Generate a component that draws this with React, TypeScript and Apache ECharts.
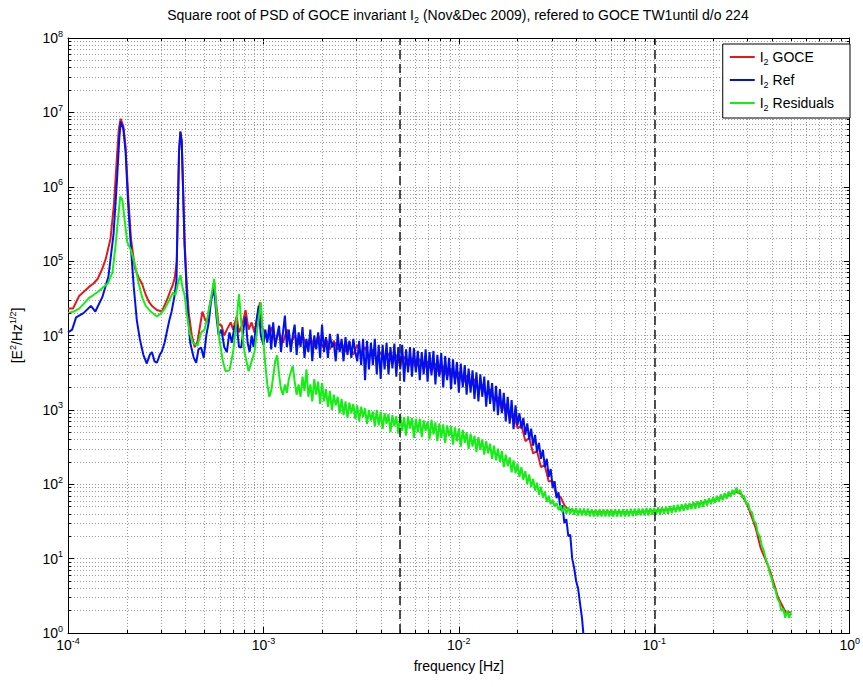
import React, { useEffect, useRef } from "react";
import * as echarts from "echarts";

// ---------------- data ----------------
const refLowFreq = [1.0e-4,1.05e-4,1.1e-4,1.2e-4,1.31e-4,1.38e-4,1.5e-4,1.61e-4,1.71e-4,1.78e-4,1.83e-4,1.86e-4,1.92e-4,1.97e-4,2.03e-4,2.1e-4,2.17e-4,2.25e-4,2.33e-4,2.43e-4,2.53e-4,2.62e-4,2.69e-4,2.77e-4,2.85e-4,2.95e-4,3.02e-4,3.12e-4,3.2e-4,3.3e-4,3.39e-4,3.5e-4,3.59e-4,3.64e-4,3.7e-4,3.76e-4,3.82e-4,3.87e-4,3.95e-4,4.05e-4,4.13e-4,4.22e-4,4.3e-4,4.4e-4,4.53e-4,4.65e-4,4.8e-4,4.95e-4,5.1e-4,5.25e-4,5.4e-4,5.6e-4,5.75e-4,5.9e-4,6.1e-4,6.3e-4,6.5e-4,6.7e-4,6.9e-4,7.1e-4,7.3e-4,7.5e-4,7.7e-4,7.9e-4,8.1e-4,8.3e-4,8.5e-4,8.7e-4,8.9e-4,9.2e-4,9.45e-4,9.7e-4];
const refLowVals = [1.1e4,1.2e4,1.75e4,2.0e4,2.5e4,2.1e4,3.3e4,6.2e4,2.3e5,1.2e6,4.5e6,7.5e6,6.0e6,3.0e6,6e5,1.5e5,4.5e4,1.6e4,9e3,5.5e3,4.2e3,5.5e3,6e3,4.5e3,4.3e3,5.5e3,6.1e3,8e3,1.1e4,1.6e4,2.1e4,3.3e4,5.5e4,4e5,3e6,5.5e6,4e6,1.2e6,1.6e5,4e4,1.6e4,8e3,6.5e3,5e3,4.3e3,6.5e3,6.9e3,5e3,1.0e4,1.5e4,3.0e4,4.2e4,1.8e4,1.0e4,1.2e4,7e3,6e3,1.1e4,8e3,1.3e4,1.4e4,7e3,6.9e3,1.2e4,1.8e4,8e3,6e3,1.0e4,7e3,1.5e4,2.5e4,1.0e4];

const goceLowFreq = [1.0e-4,1.06e-4,1.14e-4,1.22e-4,1.28e-4,1.35e-4,1.42e-4,1.5e-4,1.56e-4,1.65e-4,1.72e-4,1.77e-4,1.82e-4,1.86e-4,1.92e-4,1.97e-4,2.03e-4,2.1e-4,2.2e-4,2.3e-4,2.39e-4,2.5e-4,2.6e-4,2.69e-4,2.85e-4,3.02e-4,3.13e-4,3.24e-4,3.34e-4,3.43e-4,3.52e-4,3.6e-4,3.65e-4,3.7e-4,3.76e-4,3.82e-4,3.87e-4,3.95e-4,4.05e-4,4.15e-4,4.3e-4,4.45e-4,4.6e-4,4.75e-4,4.87e-4,5.0e-4,5.15e-4,5.3e-4,5.45e-4,5.6e-4,5.75e-4,5.9e-4,6.1e-4,6.3e-4,6.5e-4,6.8e-4,7.0e-4,7.3e-4,7.5e-4,7.8e-4,8.1e-4,8.4e-4,8.7e-4,9.0e-4,9.3e-4,9.6e-4,9.8e-4];
const goceLowVals = [2.3e4,2.3e4,3.4e4,4e4,4.5e4,5e4,5.8e4,8e4,1.07e5,2e5,6e5,2e6,6e6,8.2e6,6.5e6,3.5e6,8e5,2e5,8e4,6e4,5e4,3.5e4,2.8e4,2.5e4,2.2e4,2.1e4,2.6e4,3.2e4,4.0e4,4.7e4,6e4,1e5,5e5,3e6,5.5e6,4e6,1.2e6,1.8e5,5e4,2e4,1e4,7e3,8.3e3,1.4e4,2.1e4,1.7e4,1.5e4,2.5e4,3.5e4,5.2e4,2.5e4,1.4e4,1.37e4,1.0e4,1.2e4,1.5e4,1.2e4,1.8e4,1.1e4,1.4e4,2.2e4,1.2e4,1.5e4,1.1e4,1.8e4,2.8e4,1.3e4];

const resLowFreq = [1.0e-4,1.07e-4,1.14e-4,1.21e-4,1.28e-4,1.35e-4,1.43e-4,1.52e-4,1.6e-4,1.69e-4,1.75e-4,1.8e-4,1.85e-4,1.9e-4,1.95e-4,2.01e-4,2.1e-4,2.2e-4,2.3e-4,2.4e-4,2.5e-4,2.65e-4,2.85e-4,3.0e-4,3.13e-4,3.3e-4,3.45e-4,3.55e-4,3.65e-4,3.76e-4,3.85e-4,3.95e-4,4.05e-4,4.19e-4,4.35e-4,4.6e-4,4.8e-4,5.0e-4,5.16e-4,5.35e-4,5.6e-4,5.75e-4,5.95e-4,6.2e-4,6.4e-4,6.7e-4,7.0e-4,7.2e-4,7.5e-4,7.75e-4,8.0e-4,8.4e-4,8.7e-4,9.0e-4,9.3e-4,9.7e-4];
const resLowVals = [2.0e4,2.1e4,2.3e4,2.7e4,3.2e4,3.5e4,3.9e4,4.5e4,5e4,7.1e4,1.6e5,3.5e5,7.4e5,6.5e5,3.5e5,1.8e5,1.4e5,9e4,5e4,3.2e4,2.5e4,2.1e4,1.8e4,2.0e4,2.3e4,3.0e4,3.8e4,3.5e4,5e4,6.5e4,4.5e4,3.5e4,2e4,1.1e4,8e3,7.3e3,1.1e4,1.2e4,1.7e4,2.8e4,5.8e4,2.2e4,9e3,4.5e3,3.3e3,3.4e3,6e3,1.2e4,3.6e4,1.2e4,6e3,3.3e3,4.5e3,6e3,1.2e4,2.8e4];

// dense frequency grid (mantissas of one decade) for the noisy Ref / Residual parts
const denseMant = [
  1.000,1.023,1.047,1.072,1.096,1.122,1.148,1.175,1.202,1.230,
  1.259,1.288,1.318,1.349,1.380,1.413,1.445,1.479,1.514,1.549,
  1.585,1.622,1.660,1.698,1.738,1.778,1.820,1.862,1.905,1.950,
  1.995,2.042,2.089,2.138,2.188,2.239,2.291,2.344,2.399,2.455,
  2.512,2.570,2.630,2.692,2.754,2.818,2.884,2.951,3.020,3.090,
  3.162,3.236,3.311,3.388,3.467,3.548,3.631,3.715,3.802,3.890,
  3.981,4.074,4.169,4.266,4.365,4.467,4.571,4.677,4.786,4.898,
  5.012,5.129,5.248,5.370,5.495,5.623,5.754,5.888,6.026,6.166,
  6.310,6.457,6.607,6.761,6.918,7.079,7.244,7.413,7.586,7.762,
  7.943,8.128,8.318,8.511,8.710,8.913,9.120,9.333,9.550,9.772,
];
const denseDecades = [1e-3, 1e-2, 1e-1];

const refNoiseVals = [
  // 1e-3 .. 1e-2
  7.5e3,1.2e4,8e3,1.4e4,6.5e3,1.5e4,7e3,1.0e4,1.35e4,6e3,
  1.1e4,1.85e4,7e3,1.2e4,6e3,1.0e4,1.4e4,5.5e3,1.1e4,7e3,
  1.3e4,5e3,9e3,6e3,1.2e4,4.5e3,1.0e4,6.5e3,1.1e4,5e3,
  1.4e4,6e3,9.5e3,5e3,1.05e4,7e3,8e3,4.5e3,1.05e4,6e3,
  9e3,4.5e3,9.5e3,5.5e3,8.5e3,5e3,9e3,6e3,4.5e3,8.5e3,
  4e3,9e3,2.5e3,8.5e3,3.5e3,8e3,4e3,9e3,3e3,7.5e3,
  2.6e3,7.5e3,3.5e3,8e3,3e3,7e3,3.6e3,7.8e3,2.8e3,7e3,
  3.5e3,7.5e3,2.4e3,6.5e3,3.2e3,7e3,2.8e3,6.8e3,3.2e3,6.2e3,
  2.5e3,6e3,3e3,6.5e3,2.4e3,6e3,2.9e3,6.2e3,2.2e3,5.5e3,
  2.8e3,5.8e3,2e3,5.3e3,2.5e3,5e3,1.9e3,4.8e3,2.2e3,4.4e3,
  // 1e-2 .. 4.4e-2
  1.7e3,4.2e3,2e3,4e3,1.6e3,3.6e3,1.7e3,3.4e3,1.4e3,3.2e3,
  1.3e3,3e3,1.5e3,2.8e3,1.1e3,2.5e3,1.2e3,2.3e3,950,2.1e3,
  850,1.9e3,900,1.7e3,700,1.5e3,650,1.35e3,550,1.15e3,
  620,900,560,780,460,660,400,560,330,460,
  270,360,220,290,170,220,125,160,90,110,
  65,78,45,52,30,34,20,21,10,7.5,
  5,4,2.5,1.6,0.8,
];

const resNoiseVals = [
  // 1e-3 .. 1e-2
  8e3,4e3,2.2e3,1.5e3,1.8e3,2.8e3,4.5e3,5.4e3,3e3,1.9e3,
  1.6e3,2.2e3,1.7e3,2.6e3,3.2e3,3.9e3,2.4e3,1.6e3,2.2e3,1.5e3,
  2.8e3,1.8e3,3.5e3,1.5e3,2.2e3,1.3e3,2.6e3,1.6e3,2.4e3,1.2e3,
  2.3e3,1.3e3,1.9e3,1.1e3,1.8e3,1e3,1.6e3,1.15e3,1.5e3,900,
  1.4e3,850,1.3e3,780,1.25e3,900,1.2e3,750,1.15e3,700,
  1.1e3,800,1.05e3,650,1e3,720,950,600,1e3,620,
  950,550,900,650,880,500,850,600,820,480,
  850,520,800,450,820,560,780,420,760,500,
  760,430,720,520,700,400,740,470,680,380,
  660,420,640,360,620,440,600,340,580,380,
  // 1e-2 .. 1e-1
  560,320,540,360,500,300,480,320,450,270,
  430,290,400,250,380,260,350,220,330,210,
  300,200,280,170,250,175,230,145,210,140,
  190,125,170,115,150,100,135,92,118,82,
  105,72,92,66,80,58,70,54,62,50,
  56,45,52,42,50,40,49,40,48,39,
  48,38,47,38,47,38,47,37,46,37,
  46,37,46,37,46,37,46,37,46,37,
  46,37,46,37,46,37,46,37,47,37,
  47,38,47,38,47,38,48,38,48,39,
  // 1e-1 .. 0.5
  48,39,49,39,49,40,50,40,51,41,
  52,42,53,43,54,44,55,45,56,46,
  58,47,59,48,61,50,63,52,65,54,
  67,56,70,58,73,61,76,64,80,68,
  84,72,90,76,84,66,70,54,56,44,
  42,32,30,22,20,15,13,10,8.5,6.5,
  5.5,4.2,3.8,2.9,2.6,2.0,2.1,1.6,2.0,1.6,
  1.9,
];

const goceNoiseFreq = [
  1.00e-3,1.05e-3,1.10e-3,1.15e-3,1.20e-3,1.26e-3,1.32e-3,1.38e-3,1.45e-3,1.51e-3,
  1.58e-3,1.66e-3,1.74e-3,1.82e-3,1.91e-3,2.00e-3,2.09e-3,2.19e-3,2.29e-3,2.40e-3,
  2.51e-3,2.63e-3,2.75e-3,2.88e-3,3.02e-3,3.16e-3,3.31e-3,3.47e-3,3.63e-3,3.80e-3,
  3.98e-3,4.17e-3,4.37e-3,4.57e-3,4.79e-3,5.01e-3,5.25e-3,5.50e-3,5.75e-3,6.03e-3,
  6.31e-3,6.61e-3,6.92e-3,7.24e-3,7.59e-3,7.94e-3,8.32e-3,8.71e-3,9.12e-3,9.55e-3,
  1.00e-2,1.05e-2,1.10e-2,1.15e-2,1.20e-2,1.26e-2,1.32e-2,1.38e-2,1.45e-2,1.51e-2,
  1.58e-2,1.66e-2,1.74e-2,1.82e-2,1.91e-2,2.00e-2,2.09e-2,2.19e-2,2.29e-2,2.40e-2,
  2.51e-2,2.63e-2,2.75e-2,2.88e-2,3.02e-2,3.16e-2,3.31e-2,3.47e-2,
];
const goceNoiseVals = [
  1.2e4,9e3,1.3e4,8e3,1.1e4,8e3,1.2e4,8e3,1.0e4,7.5e3,
  1.05e4,7e3,9.5e3,7e3,1.0e4,7e3,9e3,6.5e3,8.5e3,6.5e3,
  8e3,6e3,8e3,5.5e3,7.5e3,5.5e3,7e3,5e3,6.5e3,4.8e3,
  6e3,4.5e3,5.8e3,4.2e3,5.5e3,4e3,5.2e3,3.8e3,5e3,3.7e3,
  4.8e3,3.5e3,4.5e3,3.3e3,4.2e3,3e3,3.9e3,2.8e3,3.6e3,2.6e3,
  3.2e3,2.3e3,2.9e3,2.0e3,2.6e3,1.8e3,2.2e3,1.5e3,1.9e3,1.3e3,
  1.5e3,1.0e3,1.2e3,760,880,560,620,380,420,260,
  280,170,180,110,110,70,68,52,
];
const goceTailFreq = [3.63e-2,4.0e-2,5.0e-2,6.0e-2,8.0e-2,0.1,0.13,0.15,0.2,0.24,0.26,0.28,0.3,0.33,0.35,0.39,0.43,0.47,0.5];
const goceTailVals = [46,43,42,42,42,44,47,51,61,72,80,73,52,26,14,7,3.0,1.9,1.9];

const dashedFreqs = [5e-3, 1e-1];
const seriesNames = ["I2 GOCE", "I2 Ref", "I2 Residuals"];
const seriesColors = ["#e31a1c", "#0010f0", "#14ee14"];

// ---------------- helpers ----------------
const FONT = "'Liberation Sans', Arial, Helvetica, sans-serif";
const zip = (f: number[], v: number[]) => v.map((y, i) => [f[i], y]);
const denseFreq = denseDecades.flatMap((d) => denseMant.map((m) => m * d));

const goceData = [
  ...zip(goceLowFreq, goceLowVals),
  ...zip(goceNoiseFreq, goceNoiseVals),
  ...zip(goceTailFreq, goceTailVals),
];
const refData = [...zip(refLowFreq, refLowVals), ...zip(denseFreq, refNoiseVals)];
const resData = [...zip(resLowFreq, resLowVals), ...zip(denseFreq, resNoiseVals)];

const powFmt = (v: number) => `{b|10}{s|${Math.round(Math.log10(v))}}`;
const tickRich = {
  b: { fontSize: 14, fontFamily: FONT, color: "#000", lineHeight: 18 },
  s: { fontSize: 9, fontFamily: FONT, color: "#000", lineHeight: 8, verticalAlign: "top" },
};

const GRID_TOP = 38;
const GRID_BOTTOM = 54;
const GRID_LEFT = 62;
const GRID_RIGHT = 10;

export default function App() {
  const ref = useRef<HTMLDivElement>(null);
  useEffect(() => {
    if (!ref.current) return;
    const chart = echarts.init(ref.current, null, { renderer: "svg" });

    const minorX: number[] = [];
    for (let d = -4; d < 0; d++) for (let m = 2; m <= 9; m++) minorX.push(m * Math.pow(10, d));
    const minorY: number[] = [];
    for (let d = 0; d < 8; d++) for (let m = 2; m <= 9; m++) minorY.push(m * Math.pow(10, d));

    const plotH = 687 - GRID_TOP - GRID_BOTTOM;
    const plotW = 863 - GRID_LEFT - GRID_RIGHT;
    const fy = Math.pow(10, 3 / (plotH / 8));
    const fx = Math.pow(10, 3 / (plotW / 4));
    const ticks: any[] = [];
    minorX.forEach((x) => {
      ticks.push([{ coord: [x, 1] }, { coord: [x, fy] }]);
      ticks.push([{ coord: [x, 1e8] }, { coord: [x, 1e8 / fy] }]);
    });
    minorY.forEach((y) => {
      ticks.push([{ coord: [1e-4, y] }, { coord: [1e-4 * fx, y] }]);
      ticks.push([{ coord: [1, y] }, { coord: [1 / fx, y] }]);
    });

    const helper = (name: string, markLine: any) => ({
      name,
      type: "line",
      data: [[1e-4, 1]],
      symbol: "none",
      showSymbol: false,
      lineStyle: { opacity: 0, width: 0 },
      silent: true,
      markLine: {
        silent: true,
        precision: 12,
        symbol: ["none", "none"],
        label: { show: false },
        emphasis: { disabled: true },
        animation: false,
        ...markLine,
      },
    });

    const gridLine = { color: "#9a9a9a", width: 1, type: [1, 2] };

    const logAxisBase = {
      type: "log",
      logBase: 10,
      axisLine: { show: true, onZero: false, lineStyle: { color: "#000", width: 1 } },
      axisTick: { show: true, inside: true, length: 6, lineStyle: { color: "#000", width: 1 } },
      minorTick: { show: false },
    };

    const dataSeries = (i: number, data: number[][]) => ({
      name: seriesNames[i],
      type: "line",
      data,
      symbol: "none",
      showSymbol: false,
      clip: true,
      z: 2,
      color: seriesColors[i],
      lineStyle: { color: seriesColors[i], width: 2 },
    });

    chart.setOption({
      animation: false,
      backgroundColor: "#fff",
      grid: { left: GRID_LEFT, right: GRID_RIGHT, top: GRID_TOP, bottom: GRID_BOTTOM, containLabel: false },
      xAxis: [
        {
          ...logAxisBase,
          min: 1e-4,
          max: 1,
          splitNumber: 4,
          position: "bottom",
          axisLabel: { formatter: powFmt, rich: tickRich, margin: 3, showMinLabel: true, showMaxLabel: true },
          splitLine: { show: true, lineStyle: gridLine },
          name: "frequency [Hz]",
          nameLocation: "middle",
          nameGap: 26,
          nameTextStyle: { fontSize: 14, fontFamily: FONT, color: "#000" },
        },
        {
          ...logAxisBase,
          min: 1e-4,
          max: 1,
          splitNumber: 4,
          position: "top",
          axisLabel: { show: false },
          splitLine: { show: false },
        },
      ],
      yAxis: [
        {
          ...logAxisBase,
          min: 1,
          max: 1e8,
          splitNumber: 8,
          position: "left",
          axisLabel: { formatter: powFmt, rich: tickRich, margin: 5, showMinLabel: true, showMaxLabel: true },
          splitLine: { show: true, lineStyle: gridLine },
          name: "{t|[E}{p|2}{t|/Hz}{p|1/2}{t|]}",
          nameLocation: "middle",
          nameRotate: 90,
          nameGap: 42,
          nameTextStyle: {
            rich: {
              t: { fontSize: 14, fontFamily: FONT, color: "#000", lineHeight: 18 },
              p: { fontSize: 9, fontFamily: FONT, color: "#000", lineHeight: 8, verticalAlign: "top" },
            },
          },
        },
        {
          ...logAxisBase,
          min: 1,
          max: 1e8,
          splitNumber: 8,
          position: "right",
          axisLabel: { show: false },
          splitLine: { show: false },
        },
      ],
      legend: {
        data: seriesNames,
        orient: "vertical",
        right: 13,
        top: 44,
        icon: "rect",
        itemWidth: 25,
        itemHeight: 2,
        itemGap: 7,
        padding: [6, 16, 6, 7],
        backgroundColor: "#fff",
        borderColor: "#000",
        borderWidth: 1,
        formatter: (n: string) => `{t|I}{s|2}{t| ${n.slice(3)}}`,
        textStyle: {
          rich: {
            t: { fontSize: 14, fontFamily: FONT, color: "#000", lineHeight: 18 },
            s: { fontSize: 9, fontFamily: FONT, color: "#000", lineHeight: 8, verticalAlign: "bottom" },
          },
        },
      },
      graphic: [
        {
          type: "text",
          x: 458,
          y: 6,
          style: {
            text: "{t|Square root of PSD of GOCE invariant I}{s|2}{t| (Nov&Dec 2009), refered to GOCE TW1until d/o 224}",
            align: "center",
            verticalAlign: "top",
            rich: {
              t: { fontSize: 14, fontFamily: FONT, fill: "#000", color: "#000", lineHeight: 18 },
              s: { fontSize: 9, fontFamily: FONT, fill: "#000", color: "#000", lineHeight: 8, verticalAlign: "bottom" },
            },
          },
        },
      ],
      series: [
        helper("_grid", {
          z: 1,
          lineStyle: gridLine,
          data: [...minorX.map((x) => ({ xAxis: x })), ...minorY.map((y) => ({ yAxis: y }))],
        }),
        dataSeries(0, goceData),
        dataSeries(1, refData),
        dataSeries(2, resData),
        helper("_ticks", {
          z: 3,
          lineStyle: { color: "#000", width: 1, type: "solid" },
          data: ticks,
        }),
        helper("_dash", {
          z: 4,
          lineStyle: { color: "#1a1a1a", width: 1.5, type: [9, 5] },
          data: dashedFreqs.map((x) => ({ xAxis: x })),
        }),
      ],
    });
    return () => chart.dispose();
  }, []);

  return (
    <div
      ref={ref}
      style={{ position: "fixed", left: 0, top: 0, width: 863, height: 687, background: "#fff" }}
    />
  );
}
